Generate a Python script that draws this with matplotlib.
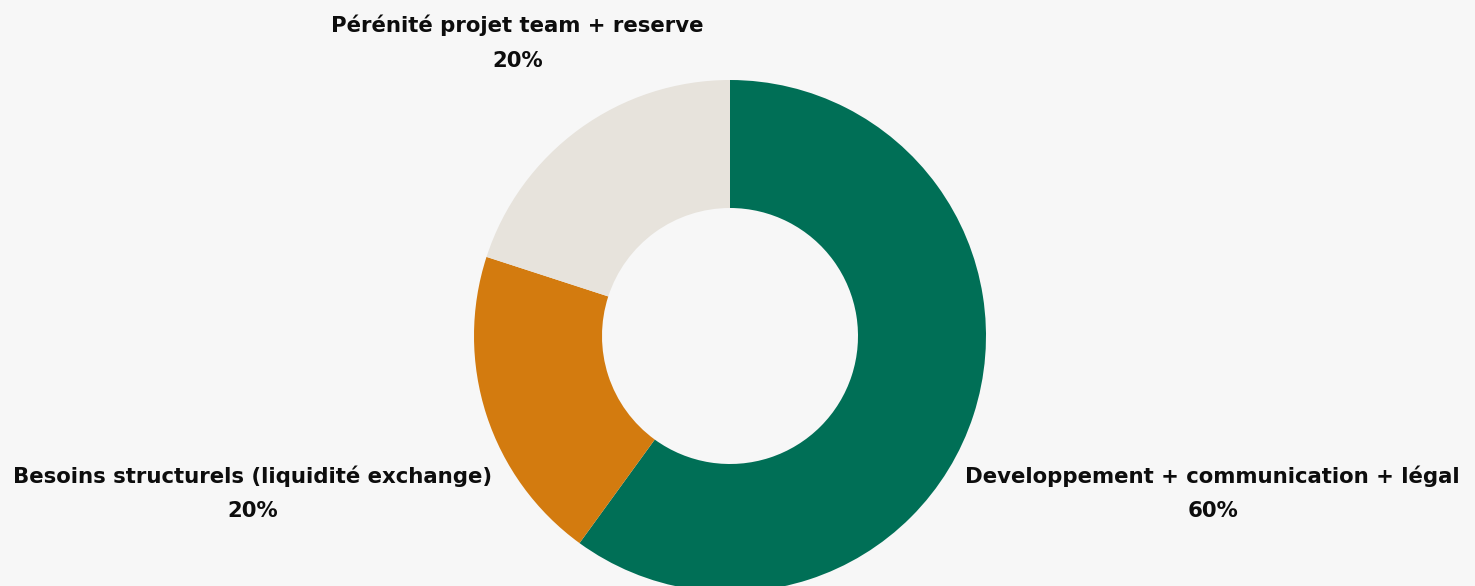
import matplotlib.pyplot as plt

labels = ["Developpement + communication + légal",
          "Besoins structurels (liquidité exchange)",
          "Pérénité projet team + reserve"]
shares = [60, 20, 20]
colors = ["#006f56", "#d37b0f", "#e7e3dc"]
bg = "#f7f7f7"

# label anchor points (data units, pie radius = 1)
label_pos = [(1.885, -0.615), (-1.865, -0.615), (-0.83, 1.145)]

fig = plt.figure(figsize=(14.75, 5.86), dpi=100, facecolor=bg)
ax = fig.add_axes([0, 0, 1, 1])
ax.set_facecolor(bg)

ax.pie(shares, colors=colors, startangle=90, counterclock=False,
       radius=1, wedgeprops=dict(width=0.5, linewidth=0))

for text, val, (x, y) in zip(labels, shares, label_pos):
    ax.text(x, y, f"{text}\n{val}%", ha="center", va="center",
            fontsize=15.3, fontweight="bold", color="#0d0d0d",
            linespacing=1.9)

# map the pie so its center sits at (730, 336) px with a 256 px radius
ax.set_xlim(-730 / 256, (1475 - 730) / 256)
ax.set_ylim(-(586 - 336) / 256, 336 / 256)
ax.set_aspect("auto")
ax.axis("off")

fig.savefig("out.png", dpi=100, facecolor=bg)
